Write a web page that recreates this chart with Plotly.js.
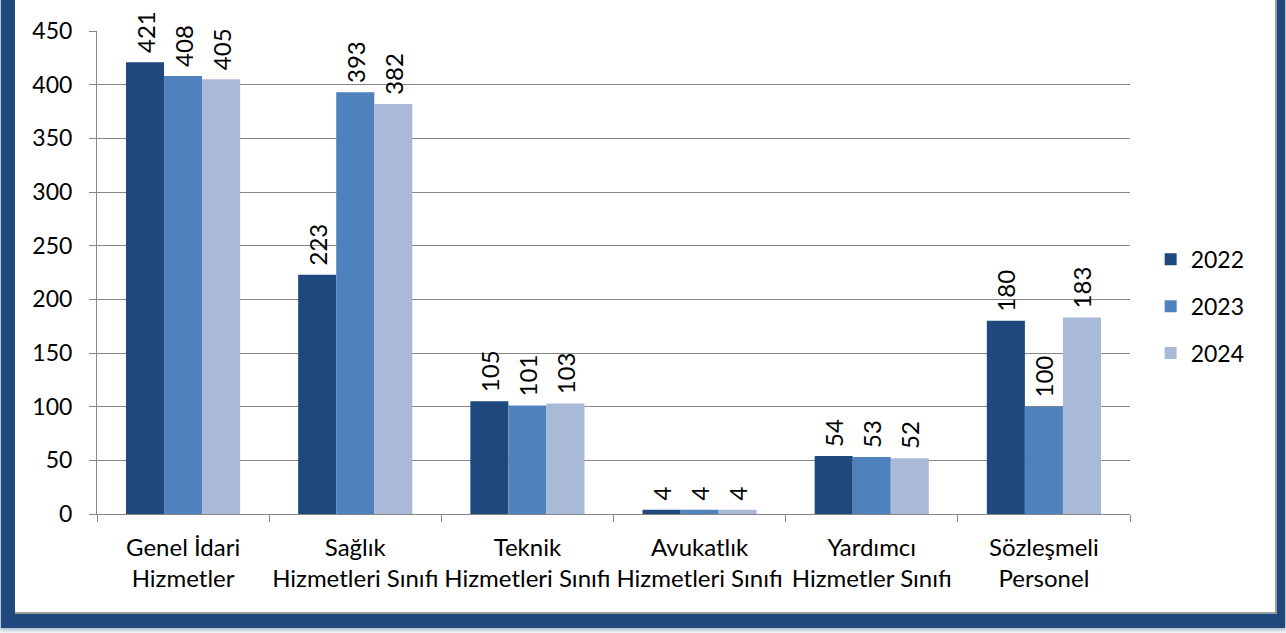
<!DOCTYPE html>
<html>
<head>
<meta charset="utf-8">
<script src="https://cdn.plot.ly/plotly-3.0.1.min.js"></script>
<style>
html,body{margin:0;padding:0;background:#ffffff;width:1286px;height:633px;overflow:hidden;}
#frame{position:absolute;left:1px;top:-12px;width:1284px;height:640px;background:#1F497D;box-shadow:0 0 5px 2px rgba(31,73,125,0.45);}
#chart{position:absolute;left:15px;top:0px;width:1260px;height:612px;background:#fff;box-shadow:1px 1px 0 1px #9a9a9a;}
</style>
</head>
<body>
<div id="frame"></div>
<div id="chart"></div>
<script>
var categories = ["Genel İdari<br>Hizmetler", "Sağlık<br>Hizmetleri Sınıfı", "Teknik<br>Hizmetleri Sınıfı", "Avukatlık<br>Hizmetleri Sınıfı", "Yardımcı<br>Hizmetler Sınıfı", "Sözleşmeli<br>Personel"];
var seriesNames = ["2022", "2023", "2024"];
var values2022 = [421, 223, 105, 4, 54, 180];
var values2023 = [408, 393, 101, 4, 53, 100];
var values2024 = [405, 382, 103, 4, 52, 183];
var colors = ["#1F497D", "#4F81BD", "#A9BAD8"];
var allValues = [values2022, values2023, values2024];

var font = "Lato, 'Noto Sans', sans-serif";
var traces = allValues.map(function(v, i){
  return {
    type: "bar", x: categories, y: v, name: seriesNames[i],
    marker: {color: colors[i], line: {width: 0}},
    text: v.map(function(n){ return "\u00a0" + n; }), textposition: "outside", textangle: -90,
    constraintext: "none", cliponaxis: false,
    textfont: {family: font, size: 24, color: "#000"},
    legendgroup: "g" + i
  };
});

var layout = {
  width: 1260, height: 612,
  margin: {l: 82, r: 145, t: 31, b: 98},
  paper_bgcolor: "rgba(0,0,0,0)", plot_bgcolor: "#fff",
  barmode: "group", bargap: 0.337, bargroupgap: 0,
  font: {family: font, size: 23, color: "#000"},
  xaxis: {
    showline: true, linecolor: "#868686", linewidth: 1,
    ticks: "outside", ticklen: 7, tickcolor: "#868686", tickson: "boundaries",
    tickangle: 0, automargin: false,
    tickfont: {family: font, size: 24, color: "#000"},
    ticklabelstandoff: 12, showgrid: false, fixedrange: true
  },
  yaxis: {
    range: [0, 450], dtick: 50, showline: true, linecolor: "#868686", linewidth: 1,
    ticks: "outside", ticklen: 7, tickcolor: "#868686",
    gridcolor: "#868686", gridwidth: 1, zeroline: false,
    tickfont: {family: font, size: 23, color: "#000"},
    ticklabelstandoff: 12, fixedrange: true
  },
  legend: {
    x: 1.02, y: 0.43, xanchor: "left", yanchor: "middle",
    font: {family: font, size: 23, color: "#000"},
    tracegroupgap: 14, itemwidth: 30, traceorder: "grouped"
  },
  showlegend: true
};

Plotly.newPlot("chart", traces, layout, {displayModeBar: false, staticPlot: true});
</script>
</body>
</html>
